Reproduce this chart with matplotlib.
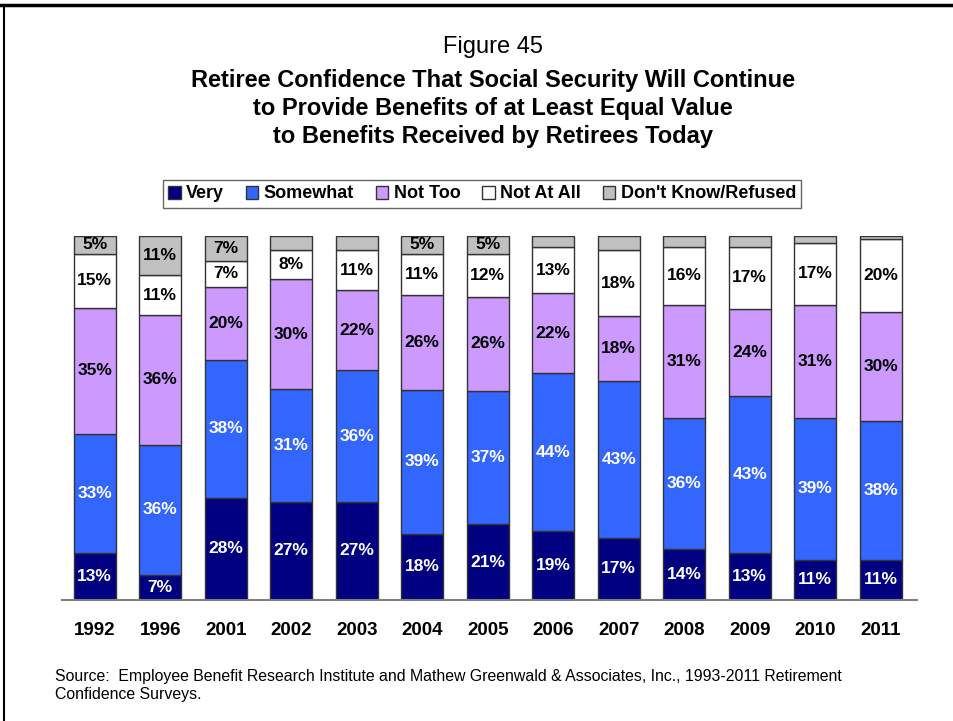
import numpy as np
import matplotlib.pyplot as plt
from matplotlib.lines import Line2D

plt.rcParams['font.family'] = ['Liberation Sans', 'DejaVu Sans']

years = ['1992', '1996', '2001', '2002', '2003', '2004', '2005',
         '2006', '2007', '2008', '2009', '2010', '2011']
very = [13, 7, 28, 27, 27, 18, 21, 19, 17, 14, 13, 11, 11]
somewhat = [33, 36, 38, 31, 36, 39, 37, 44, 43, 36, 43, 39, 38]
not_too = [35, 36, 20, 30, 22, 26, 26, 22, 18, 31, 24, 31, 30]
not_at_all = [15, 11, 7, 8, 11, 11, 12, 13, 18, 16, 17, 17, 20]
dont_know = [5, 11, 7, 4, 4, 5, 5, 3, 4, 3, 3, 2, 1]
# small don't know values are not labelled in the original
dont_know_shown = [True, True, True, False, False, True, True,
                   False, False, False, False, False, False]

series = [
    ('Very', very, '#000080', 'white'),
    ('Somewhat', somewhat, '#3366FF', 'white'),
    ('Not Too', not_too, '#CC99FF', 'black'),
    ('Not At All', not_at_all, '#FFFFFF', 'black'),
    ("Don't Know/Refused", dont_know, '#C0C0C0', 'black'),
]

totals = np.sum([s[1] for s in series], axis=0)

fig = plt.figure(figsize=(9.54, 7.21), dpi=100)
ax = fig.add_axes([0.065, 0.168, 0.896, 0.505])

x = np.arange(len(years))
bottom = np.zeros(len(years))
for name, vals, color, tcolor in series:
    h = np.array(vals) / totals * 100
    bars = ax.bar(x, h, 0.64, bottom=bottom, color=color,
                  edgecolor='#333333', linewidth=1, label=name)
    if name == "Don't Know/Refused":
        labels = [f'{v}%' if s else '' for v, s in zip(vals, dont_know_shown)]
    else:
        labels = [f'{v}%' for v in vals]
    ax.bar_label(bars, labels=labels, label_type='center', color=tcolor,
                 fontsize=12.5, fontweight='bold')
    bottom += h

ax.set_xlim(-0.5, 12.55)
ax.set_ylim(0, 100)
ax.set_xticks(x)
ax.set_xticklabels(years, fontsize=13.5, fontweight='bold')
ax.tick_params(axis='x', length=0, pad=16)
ax.set_yticks([])
for side in ['top', 'left', 'right']:
    ax.spines[side].set_visible(False)
ax.spines['bottom'].set_color('#808080')
ax.spines['bottom'].set_linewidth(1.5)

fig.legend(loc='center', bbox_to_anchor=(482 / 954, 1 - 194 / 721), ncol=5,
           frameon=True, fancybox=False, edgecolor='#404040',
           prop={'weight': 'bold', 'size': 13}, handlelength=0.7,
           handleheight=0.7, handletextpad=0.3, columnspacing=1.2,
           borderpad=0.3)

title_x = 493 / 954
fig.text(title_x, 1 - 47 / 721, 'Figure 45', ha='center', va='center',
         fontsize=17)
title_lines = ['Retiree Confidence That Social Security Will Continue',
               'to Provide Benefits of at Least Equal Value',
               'to Benefits Received by Retirees Today']
for i, line in enumerate(title_lines):
    fig.text(title_x, 1 - (80 + 28.5 * i) / 721, line, ha='center',
             va='center', fontsize=17, fontweight='bold')

fig.text(55 / 954, 1 - 677 / 721,
         'Source:  Employee Benefit Research Institute and Mathew Greenwald & '
         'Associates, Inc., 1993-2011 Retirement', fontsize=11.4, va='center')
fig.text(55 / 954, 1 - 695 / 721, 'Confidence Surveys.', fontsize=11.4,
         va='center')

# page frame lines
fig.add_artist(Line2D([0, 1], [1 - 5 / 721, 1 - 5 / 721], color='black',
                      linewidth=2.5, transform=fig.transFigure))
fig.add_artist(Line2D([4 / 954, 4 / 954], [0, 1 - 5 / 721], color='black',
                      linewidth=1.5, transform=fig.transFigure))

fig.savefig('out.png', dpi=100)
